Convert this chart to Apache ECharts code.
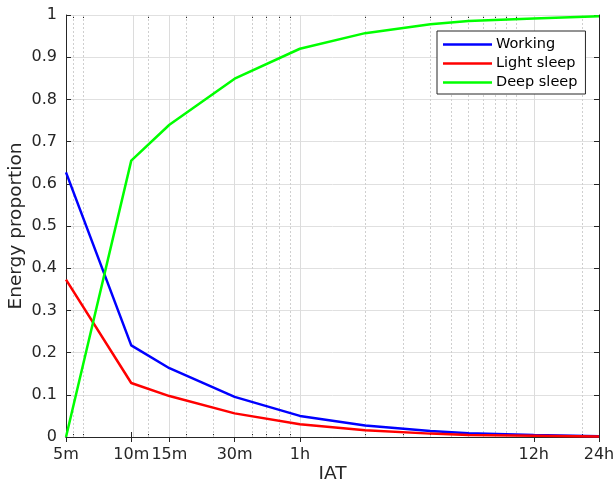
<!DOCTYPE html>
<html>
<head>
<meta charset="utf-8">
<script src="https://cdn.jsdelivr.net/npm/echarts@6/dist/echarts.min.js"></script>
<style>html,body{margin:0;padding:0;background:#fff;}#c{width:616px;height:487px;}</style>
</head>
<body>
<div id="c"></div>
<script>
// IAT in hours
const iatHours = [0.08333, 0.16667, 0.25, 0.5, 1, 2, 4, 6, 12, 24];
const working = [0.627, 0.217, 0.163, 0.095, 0.050, 0.027, 0.014, 0.009, 0.005, 0.002];
const lightSleep = [0.373, 0.128, 0.097, 0.056, 0.030, 0.016, 0.008, 0.005, 0.003, 0.001];
const deepSleep = [0.000, 0.655, 0.740, 0.849, 0.920, 0.957, 0.978, 0.986, 0.992, 0.997];
const majorTicks = [0.08333, 0.16667, 0.25, 0.5, 1, 12, 24];
const majorLabels = ['5m', '10m', '15m', '30m', '1h', '12h', '24h'];
const minorTicks = [0.09, 0.1, 0.2, 0.3, 0.4, 0.6, 0.7, 0.8, 0.9, 2, 3, 4, 5, 6, 7, 8, 9, 10, 20];
const seriesNames = ['Working', 'Light sleep', 'Deep sleep'];
const colors = ['#0000ff', '#ff0000', '#00ff00'];

const axisColor = '#262626';
const font = 'DejaVu Sans';
const chart = echarts.init(document.getElementById('c'), null, {renderer: 'canvas'});

function labelFor(v) {
  for (let i = 0; i < majorTicks.length; i++) {
    if (Math.abs(majorTicks[i] - v) / majorTicks[i] < 0.01) return majorLabels[i];
  }
  return '';
}

const xBase = {
  type: 'log', logBase: 10, min: 0.08333, max: 24,
  splitLine: {show: false}, minorTick: {show: false}
};

const lineSeries = seriesNames.map((n, k) => ({
  name: n, type: 'line', xAxisIndex: 0, yAxisIndex: 0,
  data: iatHours.map((h, i) => [h, [working, lightSleep, deepSleep][k][i]]),
  showSymbol: false, symbol: 'none',
  lineStyle: {color: colors[k], width: 2.5}, itemStyle: {color: colors[k]},
  z: 5, animation: false
}));

chart.setOption({
  animation: false,
  grid: {left: 66, right: 17, top: 15, bottom: 50, containLabel: false, outerBoundsMode: 'none'},
  legend: {
    orient: 'vertical', left: 437, top: 31, width: 147,
    data: seriesNames,
    icon: 'rect', itemWidth: 49, itemHeight: 2.5, itemGap: 2,
    padding: [5, 8, 3, 6],
    borderColor: axisColor, borderWidth: 1, backgroundColor: '#fff',
    textStyle: {fontFamily: font, fontSize: 14.5, color: '#000', lineHeight: 17, padding: [0, 0, 0, -1]},
    z: 10
  },
  xAxis: [
    Object.assign({}, xBase, {
      position: 'bottom',
      name: 'IAT', nameLocation: 'middle', nameGap: 28, nameMoveOverlap: false,
      nameTextStyle: {fontFamily: font, fontSize: 18.5, color: axisColor},
      axisLine: {show: true, lineStyle: {color: axisColor, width: 1}},
      axisTick: {show: true, inside: true, length: 5, customValues: majorTicks, lineStyle: {color: axisColor}},
      axisLabel: {show: true, customValues: majorTicks, formatter: labelFor, margin: 10,
        fontFamily: font, fontSize: 16, color: axisColor}
    }),
    Object.assign({}, xBase, {
      position: 'top',
      axisLine: {show: true, lineStyle: {color: axisColor, width: 1}},
      axisTick: {show: true, inside: true, length: 5, customValues: majorTicks, lineStyle: {color: axisColor}},
      axisLabel: {show: false}
    }),
    Object.assign({}, xBase, {
      position: 'bottom',
      axisLine: {show: false},
      axisTick: {show: true, inside: true, length: 3, customValues: minorTicks, lineStyle: {color: axisColor}},
      axisLabel: {show: false}
    }),
    Object.assign({}, xBase, {
      position: 'top',
      axisLine: {show: false},
      axisTick: {show: true, inside: true, length: 3, customValues: minorTicks, lineStyle: {color: axisColor}},
      axisLabel: {show: false}
    })
  ],
  yAxis: [
    {
      type: 'value', min: 0, max: 1, interval: 0.1, position: 'left',
      name: 'Energy proportion', nameLocation: 'middle', nameGap: 40, nameRotate: 90, nameMoveOverlap: false,
      nameTextStyle: {fontFamily: font, fontSize: 18.5, color: axisColor},
      axisLine: {show: true, lineStyle: {color: axisColor, width: 1}},
      axisTick: {show: true, inside: true, length: 5, lineStyle: {color: axisColor}},
      axisLabel: {fontFamily: font, fontSize: 16, color: axisColor, margin: 9,
        formatter: v => (Math.round(v * 10) / 10).toString()},
      splitLine: {show: true, lineStyle: {color: '#e0e0e0', width: 1}}
    },
    {
      type: 'value', min: 0, max: 1, interval: 0.1, position: 'right',
      axisLine: {show: true, lineStyle: {color: axisColor, width: 1}},
      axisTick: {show: true, inside: true, length: 5, lineStyle: {color: axisColor}},
      axisLabel: {show: false},
      splitLine: {show: false}
    }
  ],
  series: [
    {
      name: 'grid', type: 'line', xAxisIndex: 0, yAxisIndex: 0, data: [], z: 1,
      silent: true,
      markLine: {
        silent: true, symbol: 'none', label: {show: false}, animation: false,
        data: majorTicks.slice(1, 6).map(v => ({xAxis: v, lineStyle: {color: '#dcdcdc', width: 1, type: 'solid'}}))
          .concat(minorTicks.map(v => ({xAxis: v, lineStyle: {color: '#cfcfcf', width: 1, type: [2, 2]}})))
      }
    }
  ].concat(lineSeries)
});
</script>
</body>
</html>
